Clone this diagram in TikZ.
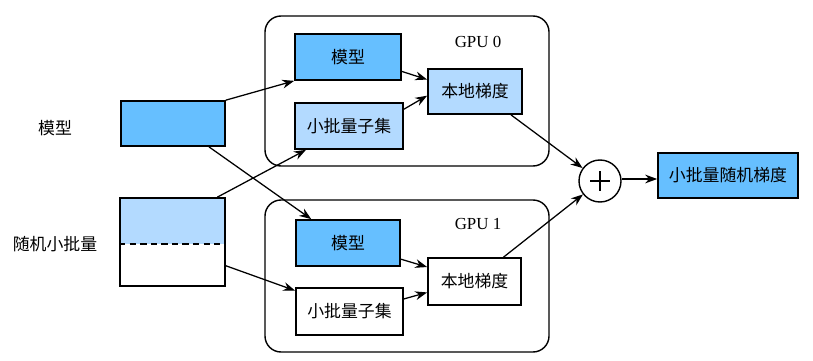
\documentclass[tikz,border=0pt]{standalone}
\usepackage{fontspec}
\setmainfont{Liberation Serif}
\newfontfamily\cjk{Noto Sans CJK SC}
\usetikzlibrary{arrows.meta}
\definecolor{modelblue}{RGB}{102,191,255}
\definecolor{batchblue}{RGB}{179,218,255}
\tikzset{
  box/.style={draw, line width=1.2pt, minimum height=1.15cm, inner sep=0pt},
  gpubox/.style={draw, line width=1pt, rounded corners=0.4cm},
  link/.style={-{Stealth[length=3mm,width=2.2mm]}, line width=0.9pt},
}
\begin{document}
\begin{tikzpicture}[font=\cjk\fontsize{12}{14}\selectfont]
  \useasboundingbox (0,0) rectangle (20.325,9);

  % Inputs
  \node (modellab) at (1.375,5.8) {模型};
  \node (batchlab) at (1.375,2.9) {随机小批量};
  \node[box, fill=modelblue, minimum width=2.6cm, minimum height=1.125cm] (model) at (4.325,5.9125) {};
  \node[box, minimum width=2.625cm, minimum height=2.2cm,
        path picture={\fill[batchblue] (path picture bounding box.north west)
          rectangle ([yshift=-0.05cm]path picture bounding box.east);}] (batch) at (4.3125,2.95) {};
  \draw[line width=1.2pt, dash pattern=on 4.5pt off 3pt] ([yshift=-0.05cm]batch.west) -- ([yshift=-0.05cm]batch.east);

  % GPU 0
  \draw[gpubox] (6.625,8.6) rectangle (13.725,4.85);
  \node[font=\rmfamily\fontsize{12}{14}\selectfont] (gpu0) at (11.95,7.95) {GPU 0};
  \node[box, fill=modelblue, minimum width=2.65cm] (m0) at (8.7,7.575) {模型};
  \node[box, fill=batchblue, minimum width=2.7cm] (s0) at (8.725,5.85) {小批量子集};
  \node[box, fill=batchblue, minimum width=2.35cm, minimum height=1.125cm] (g0) at (11.875,6.7125) {本地梯度};

  % GPU 1
  \draw[gpubox] (6.625,4.0) rectangle (13.725,0.2);
  \node[font=\rmfamily\fontsize{12}{14}\selectfont] (gpu1) at (11.95,3.4) {GPU 1};
  \node[box, fill=modelblue, minimum width=2.6cm] (m1) at (8.7,2.925) {模型};
  \node[box, minimum width=2.675cm, minimum height=1.175cm] (s1) at (8.7375,1.2125) {小批量子集};
  \node[box, minimum width=2.325cm, minimum height=1.175cm] (g1) at (11.8625,1.9625) {本地梯度};

  % Sum
  \node[draw, circle, line width=1pt, minimum size=1.05cm, inner sep=0pt] (plus) at (15.0,4.475) {};
  \draw[line width=1pt] ([xshift=-0.24cm]plus.center) -- ([xshift=0.24cm]plus.center)
    ([yshift=-0.24cm]plus.center) -- ([yshift=0.24cm]plus.center);
  \node[box, fill=modelblue, minimum width=3.5cm, minimum height=1.125cm] (out) at (18.2,4.6125) {小批量随机梯度};

  % Connectors
  \draw[link] (model.north east) -- (m0.south west);
  \draw[link] (model.-33) -- (m1.147);
  \draw[link] (batch.45) -- (s0.209);
  \draw[link] (batch.-24) -- (s1.159);
  \draw[link] (m0.-15) -- (g0.166);
  \draw[link] (s0.17) -- (g0.185);
  \draw[link] (m1.-17) -- (g1.163);
  \draw[link] (s1.13) -- (g1.193);
  \draw[link] (g0.-33) -- (plus);
  \draw[link] (g1.40) -- (plus);
  \draw[link] ([yshift=0.05cm]plus.east) -- ([yshift=0.05cm]plus.east -| out.west);
\end{tikzpicture}
\end{document}
